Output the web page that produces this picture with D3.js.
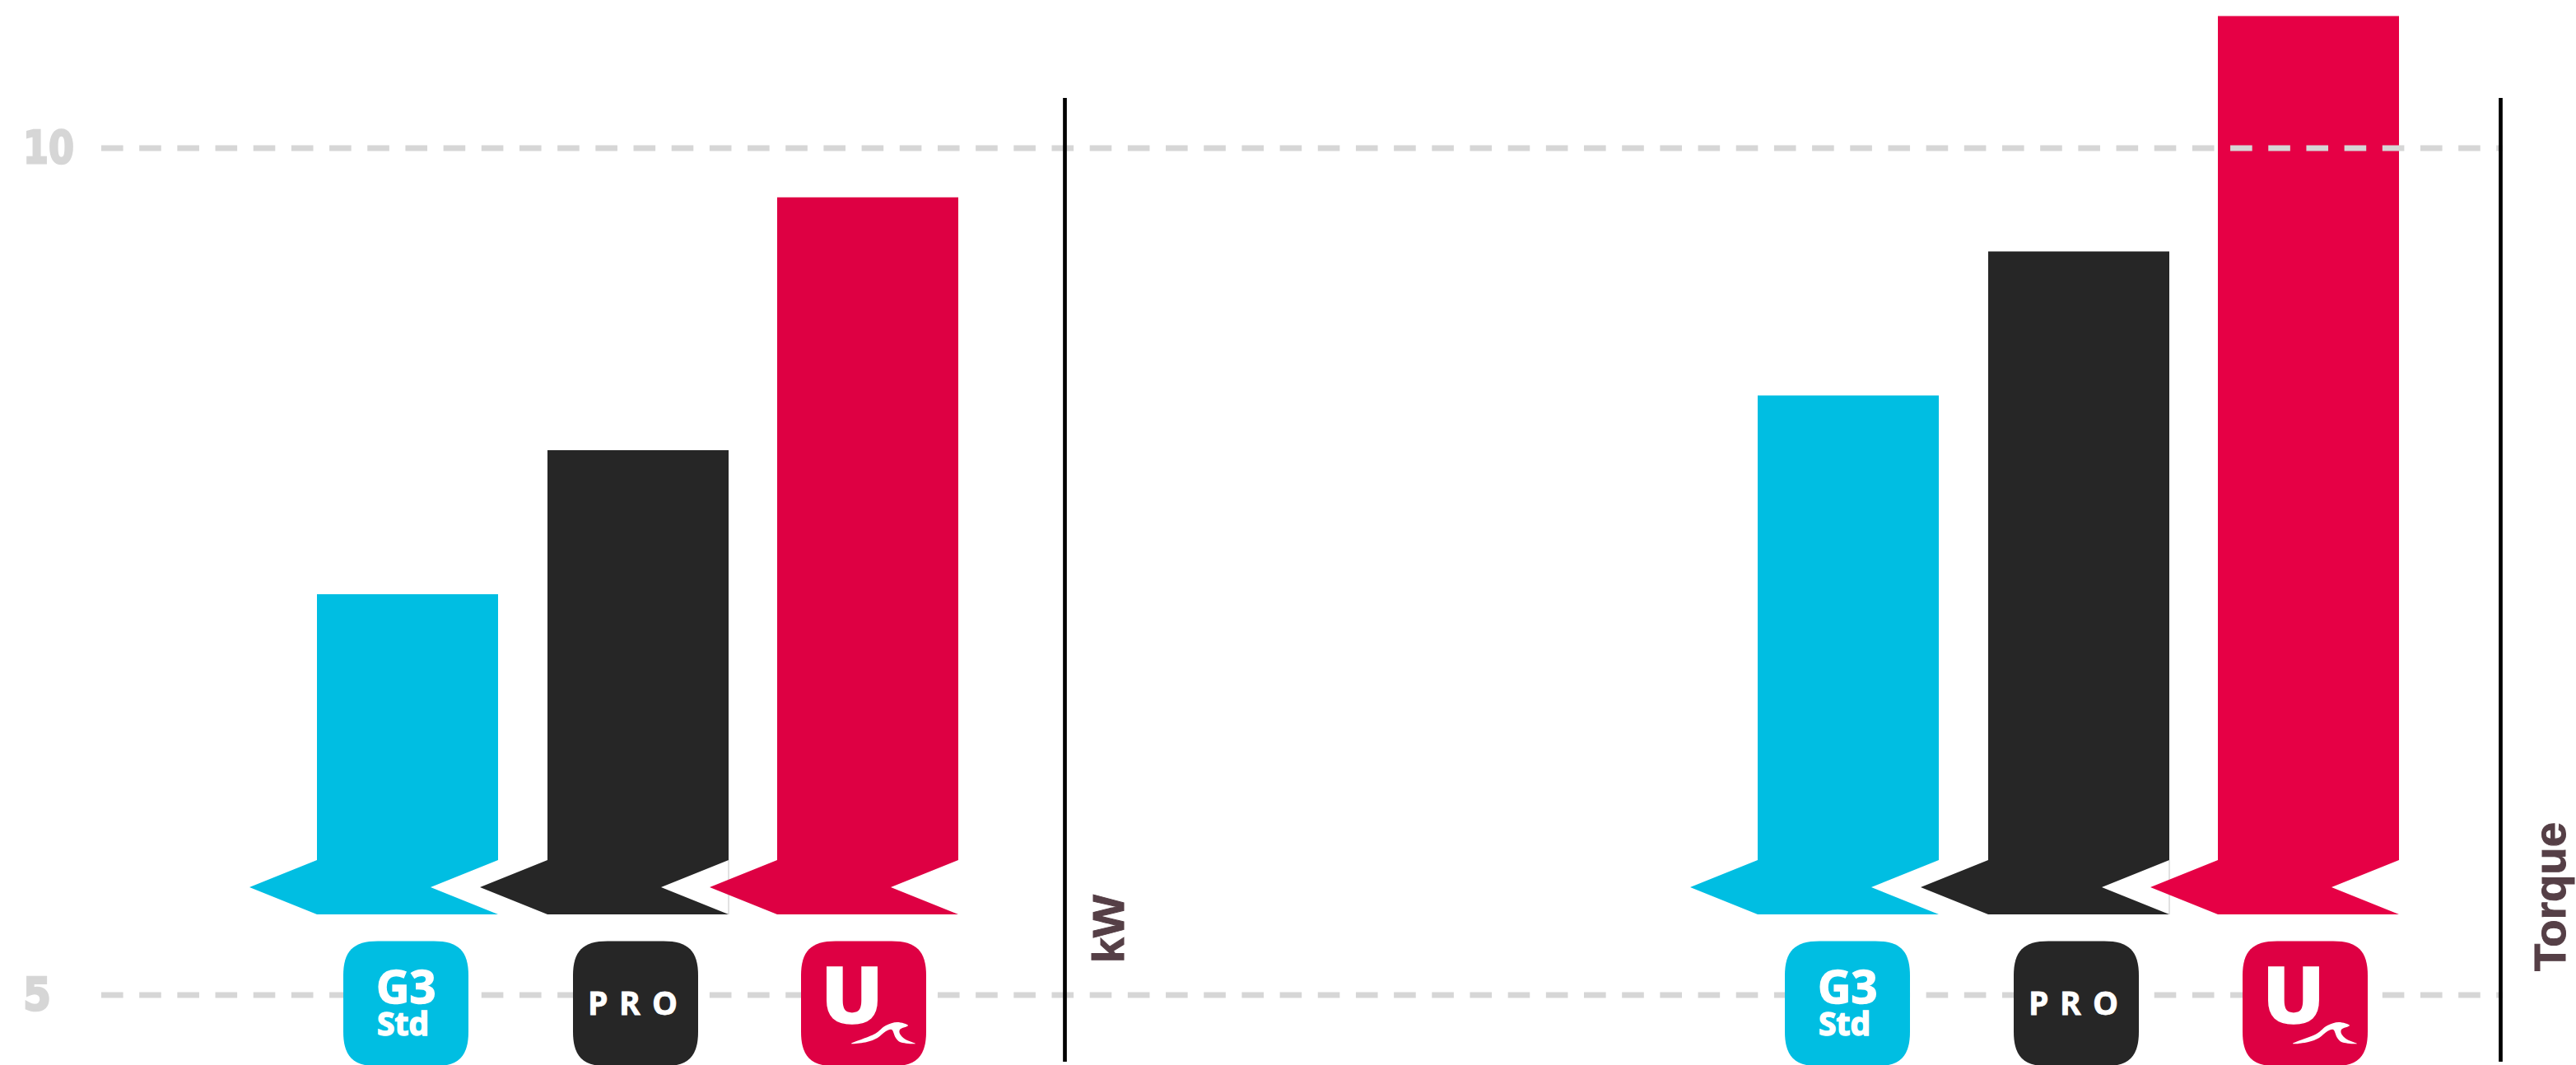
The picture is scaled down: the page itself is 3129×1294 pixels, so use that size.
<!DOCTYPE html>
<html><head><meta charset="utf-8">
<script src="https://cdn.jsdelivr.net/npm/d3@7"></script>
<style>html,body{margin:0;padding:0;background:#fff}svg{display:block}</style>
</head><body><svg id="c" width="3129" height="1294"></svg>
<script>
const models = ["G3 Std", "PRO", "U"];
const kwValues = [7.366, 8.217, 9.71];
const torqueValues = [8.54, 9.39, 10.78];
const baseValue = 5.476;
const tickValues = [5, 10];
const tickLabels = ["5", "10"];
const kwColors = ["#00bee2", "#262626", "#de0043"];
const torqueColors = ["#00bee2", "#262626", "#e60045"];
const panelTitles = ["kW", "Torque"];

const svg = d3.select("#c");
const y = d3.scaleLinear().domain([5, 10]).range([1209, 180]);
const xKw = d3.scaleOrdinal().domain(models).range([385, 665, 944]);
const xTq = d3.scaleOrdinal().domain(models).range([2135, 2415, 2694]);
const barW = 220, notchDepth = 82;
const logoW = 152, logoH = 152, corner = 42, cornerCtl = 12;
const notchTop = y.invert(1045), notchMid = y.invert(1078);

function arrow(x0, v) {
  const p = d3.path();
  p.moveTo(x0, y(v));
  p.lineTo(x0 + barW, y(v));
  p.lineTo(x0 + barW, y(notchTop));
  p.lineTo(x0 + barW - notchDepth, y(notchMid));
  p.lineTo(x0 + barW, y(baseValue));
  p.lineTo(x0, y(baseValue));
  p.lineTo(x0 - notchDepth, y(notchMid));
  p.lineTo(x0, y(notchTop));
  p.closePath();
  return p.toString();
}

function drawBars(vals, xs, cols) {
  // faint hairline closing the PRO notch, sits under the next bar's tip
  svg.append("line")
    .attr("x1", xs(models[1]) + barW).attr("x2", xs(models[1]) + barW)
    .attr("y1", y(notchTop)).attr("y2", y(baseValue))
    .attr("stroke", "#c4c4c4").attr("stroke-width", 1);
  svg.append("g").selectAll("path").data(models).join("path")
    .attr("d", (m, i) => arrow(xs(m), vals[i]))
    .attr("fill", (m, i) => cols[i]);
}
drawBars(kwValues, xKw, kwColors);
drawBars(torqueValues, xTq, torqueColors);

// gridlines
svg.append("g").selectAll("line").data(tickValues).join("line")
  .attr("x1", 123).attr("x2", 3040)
  .attr("y1", d => y(d)).attr("y2", d => y(d))
  .attr("stroke", "#d6d6d6").attr("stroke-width", 7)
  .attr("stroke-dasharray", "26.6 19.58");

// tick labels
svg.append("g").selectAll("text").data(tickValues).join("text")
  .attr("x", 28).attr("y", d => y(d) + 18)
  .attr("font-family", "DejaVu Sans").attr("font-weight", 700).attr("font-size", 55)
  .attr("fill", "#d6d6d6").attr("stroke", "#d6d6d6").attr("stroke-width", 2.5)
  .attr("textLength", (d, i) => i ? 62 : 34).attr("lengthAdjust", "spacingAndGlyphs")
  .text((d, i) => tickLabels[i]);

// dividers
svg.append("g").selectAll("line").data([1293.5, 3037.5]).join("line")
  .attr("x1", d => d).attr("x2", d => d).attr("y1", 119).attr("y2", 1290)
  .attr("stroke", "#000").attr("stroke-width", 4.7);

// logos
const logoPositions = [[417, 696, 973], [2168, 2446, 2724]];
const logoTop = 1143.5;
function squircle(sel, x, c) {
  const x1 = x + logoW, y0 = logoTop, y1 = logoTop + logoH, r = corner, k = cornerCtl;
  const p = d3.path();
  p.moveTo(x + r, y0);
  p.lineTo(x1 - r, y0);
  p.bezierCurveTo(x1 - k, y0, x1, y0 + k, x1, y0 + r);
  p.lineTo(x1, y1 - r);
  p.bezierCurveTo(x1, y1 - k, x1 - k, y1, x1 - r, y1);
  p.lineTo(x + r, y1);
  p.bezierCurveTo(x + k, y1, x, y1 - k, x, y1 - r);
  p.lineTo(x, y0 + r);
  p.bezierCurveTo(x, y0 + k, x + k, y0, x + r, y0);
  p.closePath();
  sel.append("path").attr("d", p.toString()).attr("fill", c);
}
function txt(sel, s, x, yy, size, fam, sw) {
  return sel.append("text").attr("x", x).attr("y", yy).attr("font-family", fam)
    .attr("font-weight", 700).attr("font-size", size).attr("fill", "#fff")
    .attr("stroke", "#fff").attr("stroke-width", sw || 0).text(s);
}
const wavePts = [[61,125],[90,113],[103,103],[117,99],[130,103],[120,108],[120,113],[127,120],[139,125],[120,123],[115,118],[110,108],[103,110],[93,118],[80,123]];
const waveLine = d3.line().curve(d3.curveCatmullRomClosed.alpha(0.5));

logoPositions.forEach(xs => {
  const g = svg.append("g");
  squircle(g, xs[0], kwColors[0]);
  const t = g.append("text").attr("font-family", "Open Sans").attr("font-weight", 700)
    .attr("fill", "#fff").attr("stroke", "#fff").attr("stroke-width", 1.5);
  t.append("tspan").attr("x", xs[0] + 40).attr("y", 1219).attr("font-size", 56).text("G3");
  t.append("tspan").attr("x", xs[0] + 41).attr("y", 1258).attr("font-size", 39).text("Std");
  squircle(g, xs[1], kwColors[1]);
  txt(g, "P", xs[1] + 18, 1233, 39, "Open Sans", 0.8);
  txt(g, "R", xs[1] + 56, 1233, 39, "Open Sans", 0.8);
  txt(g, "O", xs[1] + 96, 1233, 39, "Open Sans", 0.8);
  squircle(g, xs[2], kwColors[2]);
  txt(g, "U", xs[2] + 23, 1243, 93, "DejaVu Sans", 1.5)
    .attr("textLength", 78).attr("lengthAdjust", "spacingAndGlyphs");
  g.append("path").attr("fill", "#fff")
    .attr("transform", `translate(${xs[2]},1143)`)
    .attr("d", waveLine(wavePts));
});

// axis titles
const titlePos = [[1365, 1170], [3116, 1180]];
const titleLens = [83, 181];
svg.append("g").selectAll("text").data(panelTitles).join("text")
  .attr("transform", (d, i) => `translate(${titlePos[i][0]},${titlePos[i][1]}) rotate(-90)`)
  .attr("font-family", "Liberation Sans").attr("font-weight", 700).attr("font-size", 54)
  .attr("fill", "#553f46").attr("stroke", "#553f46").attr("stroke-width", 1)
  .attr("textLength", (d, i) => titleLens[i]).attr("lengthAdjust", "spacingAndGlyphs")
  .text(d => d);
</script></body></html>
